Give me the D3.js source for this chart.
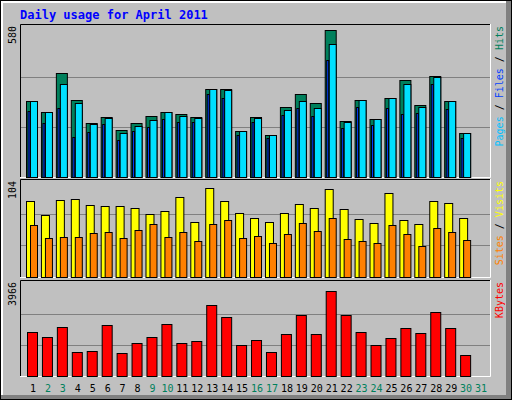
<!DOCTYPE html>
<html><head><meta charset="utf-8">
<script src="https://cdn.jsdelivr.net/npm/d3@7"></script>
<style>body{margin:0;background:#fff}</style>
</head><body>
<svg id="chart" width="512" height="400"></svg>
<script>
// -------- DATA --------
const days = d3.range(1, 32);
const weekendDays = [2, 3, 9, 10, 16, 17, 23, 24, 30, 31];
const hits  = [293,250,401,296,207,231,180,207,235,250,242,231,339,339,177,231,161,269,320,285,567,215,296,223,304,374,277,389,293,169];
const pages = [293,250,358,285,204,227,169,196,219,250,235,227,339,335,177,227,161,258,293,266,513,211,296,223,304,358,269,385,293,169];
const files = [254,208,266,153,173,204,142,177,192,223,211,211,320,304,161,211,150,239,266,235,451,188,270,200,266,242,246,358,262,150];
const visits = [83,68,84,85,79,78,78,75,69,72,88,60,97,83,70,65,60,70,80,76,96,74,64,59,92,62,58,83,81,65];
const sites  = [57,43,44,44,48,49,43,51,58,44,49,39,58,62,43,45,37,47,59,50,65,42,39,37,57,47,34,54,49,41];
const kbytes = [1883,1642,2083,1042,1082,2163,1002,1402,1642,2203,1402,1482,3045,2524,1322,1522,1042,1803,2604,1803,3646,2604,1883,1322,1602,2043,1843,2724,2043,881];

const svg = d3.select("#chart");
const font = "'DejaVu Sans Mono', monospace";

// -------- FRAME --------
svg.append("rect").attr("x", 0).attr("y", 0).attr("width", 512).attr("height", 400).attr("fill", "#000");
svg.append("rect").attr("x", 1).attr("y", 1).attr("width", 510).attr("height", 398).attr("fill", "#808080");
svg.append("rect").attr("x", 1).attr("y", 1).attr("width", 505).attr("height", 394).attr("fill", "#fff");
svg.append("rect").attr("x", 3).attr("y", 3).attr("width", 503).attr("height", 392).attr("fill", "#c0c0c0");

svg.append("text").attr("x", 20).attr("y", 19)
  .attr("font-family", font).attr("font-size", 12).attr("font-weight", "bold")
  .attr("fill", "#0000ff").text("Daily usage for April 2011");

const x = d3.scaleBand().domain(days).range([26, 489]).paddingInner(0);

// -------- PANELS --------
function panel(y0, y1, max) {
  svg.append("rect").attr("x", 20).attr("y", y0).attr("width", 471).attr("height", y1 - y0)
    .attr("fill", "#c0c0c0");
  const y = d3.scaleLinear().domain([0, max]).range([y1 - 1, y0 + 3]);
  [1 / 3, 2 / 3].forEach(f => {
    const gy = Math.round(y1 - 1 - (y1 - y0 - 4) * f) + 0.5;
    svg.append("line").attr("x1", 21).attr("x2", 490).attr("y1", gy).attr("y2", gy)
      .attr("stroke", "#808080");
  });
  // inset border: black top/left, white bottom/right
  svg.append("path").attr("d", `M20.5,${y1}V${y0 + 0.5}H491`).attr("fill", "none").attr("stroke", "#000");
  svg.append("path").attr("d", `M20,${y1 - 0.5}H490.5V${y0}`).attr("fill", "none").attr("stroke", "#fff");
  return y;
}

function bars(data, y, dx, w, color) {
  svg.append("g").selectAll("rect").data(data).join("rect")
    .attr("x", (d, i) => x(days[i]) + dx + 0.5)
    .attr("y", d => Math.round(y(d)) + 0.5)
    .attr("width", w)
    .attr("height", d => y(0) - Math.round(y(d)))
    .attr("fill", color).attr("stroke", "#000");
}

function sideLabels(yTop, yBot, maxLabel, parts) {
  svg.append("text").attr("transform", `translate(16,${yTop + 2}) rotate(-90)`)
    .attr("text-anchor", "end").attr("font-family", font).attr("font-size", 10)
    .attr("fill", "#000").text(maxLabel);
  const t = svg.append("text").attr("transform", `translate(503,${yTop + 2}) rotate(-90)`)
    .attr("text-anchor", "end").attr("font-family", font).attr("font-size", 10);
  parts.forEach((p, i) => {
    if (i > 0) t.append("tspan").attr("fill", "#000").text(" / ");
    t.append("tspan").attr("fill", p[1]).text(p[0]);
  });
}

// top: hits / files / pages
const yTop = panel(24, 178, 580);
bars(hits, yTop, 0, 11, "#00805c");
bars(pages, yTop, 4, 7, "#00e0ff");
bars(files, yTop, 1.5, 2, "#0040ff");
sideLabels(24, 178, "580", [["Pages", "#00c0ff"], ["Files", "#0040ff"], ["Hits", "#00805c"]]);

// middle: visits / sites
const yMid = panel(179, 278, 104);
bars(visits, yMid, 0, 8, "#ffff00");
bars(sites, yMid, 4, 7, "#ff8000");
sideLabels(179, 278, "104", [["Sites", "#ff8000"], ["Visits", "#ffff00"]]);

// bottom: kbytes
const yBot = panel(280, 377, 3966);
bars(kbytes, yBot, 1, 10, "#ff0000");
sideLabels(280, 377, "3966", [["KBytes", "#ff0000"]]);

// day labels
svg.append("g").selectAll("text").data(days).join("text")
  .attr("x", d => x(d) + 7)
  .attr("y", 392)
  .attr("text-anchor", "middle")
  .attr("font-family", font).attr("font-size", 10)
  .attr("fill", d => weekendDays.includes(d) ? "#00805c" : "#000")
  .text(d => d);
</script>
</body></html>
